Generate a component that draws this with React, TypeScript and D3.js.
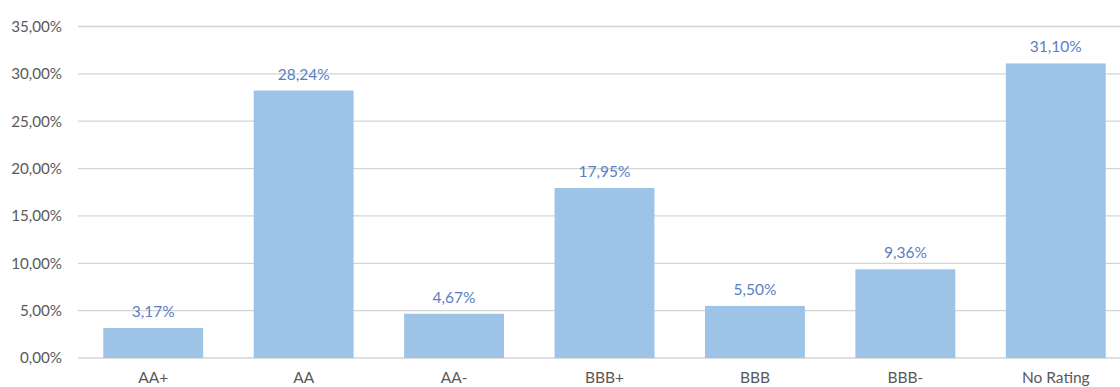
import React from "react";
import * as d3 from "d3";

const categories = ["AA+", "AA", "AA-", "BBB+", "BBB", "BBB-", "No Rating"];
const values = [3.17, 28.24, 4.67, 17.95, 5.5, 9.36, 31.1];
const yTicks = [0, 5, 10, 15, 20, 25, 30, 35];

const W = 1120;
const H = 387;
const fmt = (v: number) => v.toFixed(2).replace(".", ",") + "%";

export default function App() {
  const x = d3.scaleBand<string>().domain(categories).range([78, 1131]).paddingInner(0.336).paddingOuter(0.168);
  const y = d3.scaleLinear().domain([0, 35]).range([358, 26.5]);
  const font = "Lato, 'Open Sans', sans-serif";
  return (
    <svg width={W} height={H} style={{ position: "absolute", left: 0, top: 0, background: "#fff" }} fontFamily={font}>
      {yTicks.map((t) => (
        <g key={t}>
          <line x1={78} x2={1131} y1={y(t)} y2={y(t)} stroke="#d4d4d4" strokeWidth={1.3} />
          <text x={62} y={y(t)} dy="0.35em" textAnchor="end" fontSize={15.2} fill="#595959">
            {fmt(t)}
          </text>
        </g>
      ))}
      {categories.map((c, i) => (
        <g key={c}>
          <rect x={x(c)} y={y(values[i])} width={x.bandwidth()} height={y(0) - y(values[i])} fill="#9dc3e6" />
          <text x={(x(c) as number) + x.bandwidth() / 2} y={y(values[i]) - 11} textAnchor="middle" fontSize={15.5} fill="#5a7ec4">
            {fmt(values[i])}
          </text>
          <text x={(x(c) as number) + x.bandwidth() / 2} y={383} textAnchor="middle" fontSize={15.5} fill="#595959">
            {c}
          </text>
        </g>
      ))}
    </svg>
  );
}
